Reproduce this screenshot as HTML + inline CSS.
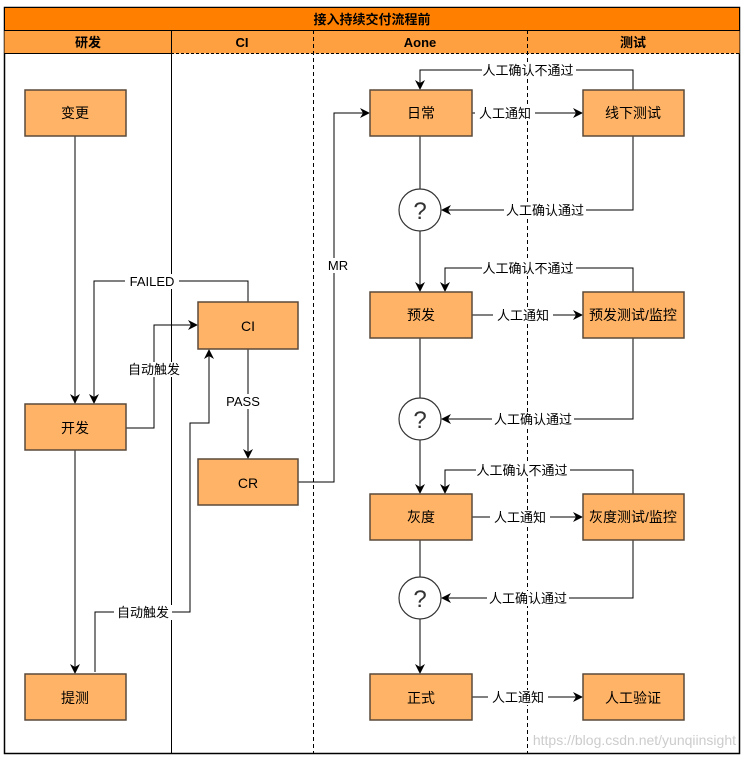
<!DOCTYPE html>
<html><head><meta charset="utf-8"><style>
html,body{margin:0;padding:0;background:#fff;}
text{font-family:"Liberation Sans","Noto Sans CJK SC",sans-serif;}
</style></head><body>
<svg width="744" height="758" viewBox="0 0 744 758" xmlns="http://www.w3.org/2000/svg">
<defs><marker id="a" markerWidth="10" markerHeight="10" refX="9" refY="5" orient="auto" markerUnits="userSpaceOnUse"><path d="M0,0 L10,5 L0,10 L3,5 z" fill="#000"/></marker></defs>
<rect x="4.5" y="7.5" width="735" height="746" fill="#fff" stroke="#000" stroke-width="1.5"/>
<rect x="4.5" y="7.5" width="735" height="23" fill="#FF8000" stroke="#000"/>
<rect x="4.5" y="30.5" width="735" height="23" fill="#FFA040"/>
<line x1="4" y1="30.5" x2="740" y2="30.5" stroke="#000"/>
<line x1="171" y1="53.5" x2="740" y2="53.5" stroke="#000" stroke-dasharray="3,2"/>
<line x1="4" y1="53.5" x2="171" y2="53.5" stroke="#000"/>
<line x1="171.5" y1="30" x2="171.5" y2="754" stroke="#000"/>
<line x1="313.5" y1="30" x2="313.5" y2="754" stroke="#000" stroke-dasharray="4,3"/>
<line x1="527.5" y1="30" x2="527.5" y2="754" stroke="#000" stroke-dasharray="4,3"/>
<g font-size="13" font-weight="bold" text-anchor="middle" fill="#000">
<text x="372" y="24">接入持续交付流程前</text>
<text x="88" y="47">研发</text><text x="242" y="47">CI</text><text x="420" y="47">Aone</text><text x="633" y="47">测试</text>
</g>
<g fill="none" stroke="#000" stroke-width="1">
<path d="M75 136 V403" marker-end="url(#a)"/>
<path d="M248 302 V281 H94 V403" marker-end="url(#a)"/>
<path d="M126 428 H154 V325 H197" marker-end="url(#a)"/>
<path d="M75 450 V673" marker-end="url(#a)"/>
<path d="M95 672 V612 H190 V423 H209 V350" marker-end="url(#a)"/>
<path d="M248 349 V458" marker-end="url(#a)"/>
<path d="M298 482 H334 V113 H369" marker-end="url(#a)"/>
<path d="M472 113 H582" marker-end="url(#a)"/>
<path d="M633 90 V70 H420 V89" marker-end="url(#a)"/>
<path d="M633 136 V210 H442" marker-end="url(#a)"/>
<path d="M420 136 V189"/>
<path d="M420 231 V291" marker-end="url(#a)"/>
<path d="M472 315 H582" marker-end="url(#a)"/>
<path d="M633 292 V268 H445 V291" marker-end="url(#a)"/>
<path d="M633 338 V419 H442" marker-end="url(#a)"/>
<path d="M420 338 V398"/>
<path d="M420 440 V493" marker-end="url(#a)"/>
<path d="M472 517 H582" marker-end="url(#a)"/>
<path d="M633 494 V470 H445 V493" marker-end="url(#a)"/>
<path d="M633 540 V598 H442" marker-end="url(#a)"/>
<path d="M420 540 V577"/>
<path d="M420 619 V673" marker-end="url(#a)"/>
<path d="M472 697 H582" marker-end="url(#a)"/>
</g>
<g fill="#FFB366" stroke="#5a4a3a" stroke-width="1.5">
<rect x="25" y="90" width="101" height="46"/><rect x="25" y="404" width="101" height="46"/><rect x="25" y="674" width="101" height="46"/>
<rect x="198" y="302" width="100" height="47"/><rect x="198" y="459" width="100" height="46"/>
<rect x="370" y="90" width="102" height="46"/><rect x="583" y="90" width="101" height="46"/>
<rect x="370" y="292" width="102" height="46"/><rect x="583" y="292" width="101" height="46"/>
<rect x="370" y="494" width="102" height="46"/><rect x="583" y="494" width="101" height="46"/>
<rect x="370" y="674" width="102" height="46"/><rect x="583" y="674" width="101" height="46"/>
</g>
<g fill="#fff" stroke="#333" stroke-width="1.2">
<circle cx="420" cy="210" r="21"/><circle cx="420" cy="419" r="21"/><circle cx="420" cy="598" r="21"/>
</g>
<g font-size="24" text-anchor="middle" fill="#333"><text x="420" y="219">?</text><text x="420" y="428">?</text><text x="420" y="607">?</text></g>
<g font-size="14" text-anchor="middle" fill="#000">
<text x="75" y="118">变更</text><text x="75" y="433">开发</text><text x="75" y="703">提测</text>
<text x="248" y="331">CI</text><text x="248" y="488">CR</text>
<text x="421" y="118">日常</text><text x="633" y="118">线下测试</text>
<text x="421" y="320">预发</text><text x="633" y="320">预发测试/监控</text>
<text x="421" y="522">灰度</text><text x="633" y="522">灰度测试/监控</text>
<text x="421" y="703">正式</text><text x="633" y="703">人工验证</text>
</g>
<g font-size="13" text-anchor="middle" fill="#000">
<rect x="125" y="274" width="54" height="15" fill="#fff"/><text x="152" y="286">FAILED</text>
<rect x="126" y="362" width="56" height="15" fill="#fff"/><text x="154" y="374">自动触发</text>
<rect x="114" y="605" width="58" height="15" fill="#fff"/><text x="143" y="617">自动触发</text>
<rect x="222" y="394" width="44" height="15" fill="#fff"/><text x="243" y="406">PASS</text>
<rect x="324" y="258" width="28" height="15" fill="#fff"/><text x="338" y="270">MR</text>
<rect x="475" y="106" width="60" height="15" fill="#fff"/><text x="505" y="118">人工通知</text>
<rect x="493" y="308" width="60" height="15" fill="#fff"/><text x="523" y="320">人工通知</text>
<rect x="490" y="510" width="60" height="15" fill="#fff"/><text x="520" y="522">人工通知</text>
<rect x="488" y="690" width="60" height="15" fill="#fff"/><text x="518" y="702">人工通知</text>
<rect x="482" y="63" width="94" height="15" fill="#fff"/><text x="528" y="75">人工确认不通过</text>
<rect x="482" y="261" width="94" height="15" fill="#fff"/><text x="528" y="273">人工确认不通过</text>
<rect x="476" y="463" width="94" height="15" fill="#fff"/><text x="522" y="475">人工确认不通过</text>
<rect x="504" y="203" width="82" height="15" fill="#fff"/><text x="545" y="215">人工确认通过</text>
<rect x="492" y="412" width="82" height="15" fill="#fff"/><text x="533" y="424">人工确认通过</text>
<rect x="487" y="591" width="82" height="15" fill="#fff"/><text x="528" y="603">人工确认通过</text>
</g>
<text x="736" y="745" font-size="14" text-anchor="end" fill="#ccc">https://blog.csdn.net/yunqiinsight</text>
</svg>
</body></html>
